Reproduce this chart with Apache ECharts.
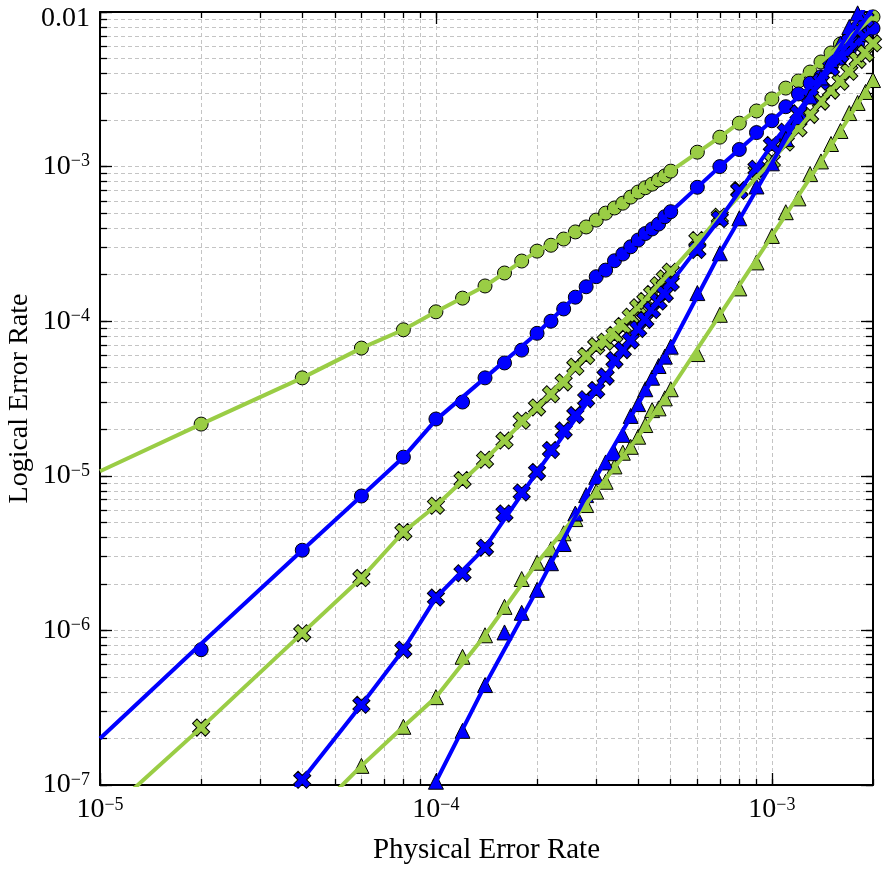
<!DOCTYPE html>
<html>
<head>
<meta charset="utf-8">
<script src="https://cdn.jsdelivr.net/npm/echarts@6/dist/echarts.min.js"></script>
<style>
  html, body { margin: 0; padding: 0; background: #fff; }
  #chart { width: 886px; height: 886px; }
</style>
</head>
<body>
<div id="chart"></div>
<script>
// ========================================
// Data
// ========================================

// physical error rates where markers sit
const markerX = [2e-5, 4e-5, 6e-5, 8e-5,
  1e-4, 1.2e-4, 1.4e-4, 1.6e-4, 1.8e-4, 2e-4, 2.2e-4, 2.4e-4, 2.6e-4, 2.8e-4, 3e-4,
  3.2e-4, 3.4e-4, 3.6e-4, 3.8e-4, 4e-4, 4.2e-4, 4.4e-4, 4.6e-4, 4.8e-4, 5e-4,
  6e-4, 7e-4, 8e-4, 9e-4,
  1e-3, 1.1e-3, 1.2e-3, 1.3e-3, 1.4e-3, 1.5e-3, 1.6e-3, 1.7e-3, 1.8e-3, 1.9e-3, 2e-3];

const greenCircleY = [2.16e-5, 4.3e-5, 6.7e-5, 8.8e-5,
  1.15e-4, 1.41e-4, 1.69e-4, 2.05e-4, 2.45e-4, 2.84e-4, 3.1e-4, 3.4e-4, 3.78e-4, 4.07e-4, 4.51e-4,
  5.0e-4, 5.4e-4, 5.8e-4, 6.35e-4, 6.85e-4, 7.3e-4, 7.7e-4, 8.2e-4, 8.7e-4, 9.35e-4,
  1.24e-3, 1.55e-3, 1.91e-3, 2.29e-3,
  2.74e-3, 3.22e-3, 3.58e-3, 4.09e-3, 4.75e-3, 5.43e-3, 6.2e-3, 6.9e-3, 7.7e-3, 8.5e-3, 9.3e-3];

const blueCircleY = [7.5e-7, 3.3e-6, 7.4e-6, 1.32e-5,
  2.33e-5, 3.0e-5, 4.3e-5, 5.37e-5, 6.5e-5, 8.35e-5, 1.0e-4, 1.2e-4, 1.43e-4, 1.67e-4, 1.94e-4,
  2.14e-4, 2.46e-4, 2.72e-4, 3.03e-4, 3.35e-4, 3.69e-4, 3.95e-4, 4.25e-4, 4.74e-4, 5.11e-4,
  7.35e-4, 1.0e-3, 1.29e-3, 1.66e-3,
  1.98e-3, 2.44e-3, 2.95e-3, 3.46e-3, 3.81e-3, 4.43e-3, 5.02e-3, 5.68e-3, 6.27e-3, 7.1e-3, 7.86e-3];

const greenCrossY = [2.35e-7, 9.6e-7, 2.18e-6, 4.33e-6,
  6.4e-6, 9.4e-6, 1.27e-5, 1.69e-5, 2.27e-5, 2.77e-5, 3.37e-5, 4.02e-5, 5.07e-5, 5.96e-5, 6.9e-5,
  7.37e-5, 8.15e-5, 9.3e-5, 1.07e-4, 1.23e-4, 1.35e-4, 1.5e-4, 1.71e-4, 1.89e-4, 2.09e-4,
  3.35e-4, 4.74e-4, 7.06e-4, 9.2e-4,
  1.09e-3, 1.43e-3, 1.77e-3, 2.16e-3, 2.63e-3, 3.1e-3, 3.54e-3, 4.1e-3, 4.9e-3, 5.4e-3, 6.27e-3];

const blueCrossY = [null, 1.08e-7, 3.3e-7, 7.5e-7,
  1.63e-6, 2.34e-6, 3.43e-6, 5.7e-6, 7.8e-6, 1.06e-5, 1.47e-5, 1.96e-5, 2.47e-5, 3.13e-5, 3.59e-5,
  4.38e-5, 5.6e-5, 6.5e-5, 7.5e-5, 8.9e-5, 1.02e-4, 1.18e-4, 1.34e-4, 1.5e-4, 1.77e-4,
  2.89e-4, 4.58e-4, 6.97e-4, 9.7e-4,
  1.38e-3, 1.68e-3, 2.21e-3, 2.83e-3, 3.54e-3, 4.36e-3, 5.3e-3, 6.4e-3, 7.6e-3, 9.0e-3, null];

const greenTriY = [null, null, 1.33e-7, 2.38e-7,
  3.7e-7, 6.75e-7, 9.3e-7, 1.42e-6, 2.15e-6, 2.74e-6, 3.35e-6, 4.25e-6, 5.25e-6, 6.47e-6, 7.9e-6,
  9.15e-6, 1.15e-5, 1.41e-5, 1.54e-5, 1.79e-5, 2.13e-5, 2.66e-5, 2.73e-5, 3.17e-5, 3.63e-5,
  6.13e-5, 1.1e-4, 1.63e-4, 2.4e-4,
  3.56e-4, 5.07e-4, 6.23e-4, 8.94e-4, 1.08e-3, 1.4e-3, 1.7e-3, 2.22e-3, 2.58e-3, 3.04e-3, 3.63e-3];

const blueTriY = [null, null, null, null,
  1.05e-7, 2.24e-7, 4.43e-7, 9.7e-7, 1.3e-6, 1.83e-6, 2.72e-6, 3.62e-6, 5.7e-6, 7.5e-6, 9.85e-6,
  1.22e-5, 1.4e-5, 1.84e-5, 2.44e-5, 2.91e-5, 3.63e-5, 4.31e-5, 5.13e-5, 5.9e-5, 6.84e-5,
  1.52e-4, 2.75e-4, 4.63e-4, 7.44e-4,
  1.05e-3, 1.51e-3, 2.09e-3, 2.84e-3, 3.77e-3, 4.9e-3, 6.26e-3, 8.0e-3, 9.8e-3, null, null];

// fitted curves (drawn as lines, running out to the frame)
const fitX = [1e-5, 2e-5, 4e-5, 6e-5, 8e-5, 1e-4, 1.4e-4, 2e-4, 3e-4, 4e-4, 5e-4, 7e-4, 1e-3, 1.4e-3, 2e-3];
const greenCircleFit = [1.07e-5, 2.16e-5, 4.3e-5, 6.7e-5, 8.8e-5, 1.15e-4, 1.69e-4, 2.84e-4, 4.51e-4, 6.85e-4, 9.35e-4, 1.55e-3, 2.74e-3, 4.75e-3, 9.3e-3];
const blueCircleFit = [2.0e-7, 8.2e-7, 3.3e-6, 7.4e-6, 1.32e-5, 2.3e-5, 4.3e-5, 8.35e-5, 1.94e-4, 3.35e-4, 5.11e-4, 1.0e-3, 1.98e-3, 3.81e-3, 7.86e-3];
const greenCrossFit = [6e-8, 2.35e-7, 9.6e-7, 2.18e-6, 4.33e-6, 6.4e-6, 1.27e-5, 2.77e-5, 6.9e-5, 1.23e-4, 2.09e-4, 4.74e-4, 1.09e-3, 2.63e-3, 6.27e-3];
const blueCrossFit = [null, 1.6e-8, 1.08e-7, 3.3e-7, 7.5e-7, 1.63e-6, 3.43e-6, 1.06e-5, 3.59e-5, 8.9e-5, 1.77e-4, 4.58e-4, 1.38e-3, 3.54e-3, 1.06e-2];
const greenTriFit = [null, null, 5.5e-8, 1.33e-7, 2.38e-7, 3.7e-7, 9.3e-7, 2.74e-6, 7.9e-6, 1.79e-5, 3.63e-5, 1.1e-4, 3.56e-4, 1.08e-3, 3.63e-3];
const blueTriFit = [null, null, null, null, 4.1e-8, 1.05e-7, 4.43e-7, 1.83e-6, 9.85e-6, 2.91e-5, 6.84e-5, 2.75e-4, 1.05e-3, 3.77e-3, 1.3e-2];

// axes
const xMin = 1e-5, xMax = 2e-3;
const yMin = 1e-7, yMax = 1e-2;
const xMajor = [1e-5, 1e-4, 1e-3];
const xMajorLabels = ['10|−5', '10|−4', '10|−3'];
const xMinor = [2e-5, 3e-5, 4e-5, 5e-5, 6e-5, 7e-5, 8e-5, 9e-5,
  2e-4, 3e-4, 4e-4, 5e-4, 6e-4, 7e-4, 8e-4, 9e-4, 2e-3];
const yMajor = [1e-7, 1e-6, 1e-5, 1e-4, 1e-3, 1e-2];
const yMajorLabels = ['10|−7', '10|−6', '10|−5', '10|−4', '10|−3', '0.01'];
const yMinor = [2e-7, 3e-7, 4e-7, 5e-7, 6e-7, 7e-7, 8e-7, 9e-7,
  2e-6, 3e-6, 4e-6, 5e-6, 6e-6, 7e-6, 8e-6, 9e-6,
  2e-5, 3e-5, 4e-5, 5e-5, 6e-5, 7e-5, 8e-5, 9e-5,
  2e-4, 3e-4, 4e-4, 5e-4, 6e-4, 7e-4, 8e-4, 9e-4,
  2e-3, 3e-3, 4e-3, 5e-3, 6e-3, 7e-3, 8e-3, 9e-3];

const GREEN = '#9acd45';
const BLUE = '#0000ff';
const FONT = '"Liberation Serif", "Times New Roman", serif';
const CROSS = 'path://M-1.1,-3.2H1.1V-1.1H3.2V1.1H1.1V3.2H-1.1V1.1H-3.2V-1.1H-1.1Z';

// ========================================
// helpers
// ========================================
function pairs(xs, ys) {
  const out = [];
  for (let i = 0; i < xs.length; i++) {
    if (ys[i] != null) out.push([xs[i], ys[i]]);
  }
  return out;
}

function tickLabel(ticks, labels) {
  return function(value) {
    const i = ticks.findIndex(t => Math.abs(Math.log10(t) - Math.log10(value)) < 1e-6);
    if (i < 0) return '';
    const parts = labels[i].split('|');
    if (parts.length === 1) return '{p|' + parts[0] + '}';
    return '{b|' + parts[0] + '}{s|' + parts[1] + '}';
  };
}

const labelRich = {
  b: { fontFamily: FONT, fontSize: 28, color: '#000' },
  s: { fontFamily: FONT, fontSize: 18, color: '#000', verticalAlign: 'top' },
  p: { fontFamily: FONT, fontSize: 28, color: '#000', padding: [13, 0, 0, 0] }
};

const gridLine = { show: true, lineStyle: { color: '#c4c4c4', width: 1, type: [4, 3] } };

function xAxisDef(position, major, withLabel) {
  return {
    type: 'log', logBase: 10, min: xMin, max: xMax, position: position,
    axisLine: { show: major, onZero: false, lineStyle: { color: '#000', width: 2 } },
    axisTick: {
      show: true, inside: true, length: major ? 12 : 6,
      customValues: major ? xMajor : xMajor.concat(xMinor),
      lineStyle: { color: '#000', width: 1.3 }
    },
    axisLabel: withLabel ? {
      show: true, margin: 11, customValues: xMajor,
      formatter: tickLabel(xMajor, xMajorLabels), rich: labelRich
    } : { show: false },
    splitLine: (!major && position === 'bottom') ? gridLine : { show: false },
    name: withLabel ? 'Physical Error Rate' : '',
    nameLocation: 'middle', nameGap: 51, nameMoveOverlap: false,
    nameTextStyle: { fontFamily: FONT, fontSize: 29, color: '#000' }
  };
}

function yAxisDef(position, major, withLabel) {
  return {
    type: 'log', logBase: 10, min: yMin, max: yMax, position: position,
    axisLine: { show: major, onZero: false, lineStyle: { color: '#000', width: 2 } },
    axisTick: {
      show: true, inside: true, length: major ? 12 : 7,
      customValues: major ? yMajor : yMajor.concat(yMinor),
      lineStyle: { color: '#000', width: 1.3 }
    },
    axisLabel: withLabel ? {
      show: true, margin: 10, customValues: yMajor,
      formatter: tickLabel(yMajor, yMajorLabels), rich: labelRich
    } : { show: false },
    splitLine: (!major && position === 'left') ? gridLine : { show: false },
    name: withLabel ? 'Logical Error Rate' : '',
    nameLocation: 'middle', nameGap: 66, nameMoveOverlap: false,
    nameTextStyle: { fontFamily: FONT, fontSize: 28, color: '#000' }
  };
}

function fitSeries(ys, color) {
  return {
    type: 'line', data: pairs(fitX, ys), showSymbol: false, symbol: 'none',
    clip: true, silent: true, animation: false,
    lineStyle: { color: color, width: 4 }
  };
}

function markSeries(ys, color, symbol, size, rotate) {
  return {
    type: 'scatter', data: pairs(markerX, ys), symbol: symbol,
    symbolSize: size, symbolRotate: rotate || 0, clip: true, animation: false,
    itemStyle: { color: color, borderColor: '#000', borderWidth: 1, opacity: 1 }
  };
}

// ========================================
// chart
// ========================================
const myChart = echarts.init(document.getElementById('chart'), null, { renderer: 'canvas' });

const option = {
  backgroundColor: '#fff',
  animation: false,
  grid: { left: 100, right: 13, top: 12, bottom: 101, containLabel: false, outerBoundsMode: 'none' },
  xAxis: [
    xAxisDef('bottom', true, true),
    xAxisDef('bottom', false, false),
    xAxisDef('top', true, false),
    xAxisDef('top', false, false)
  ],
  yAxis: [
    yAxisDef('left', true, true),
    yAxisDef('left', false, false),
    yAxisDef('right', true, false),
    yAxisDef('right', false, false)
  ],
  series: [
    fitSeries(greenCircleFit, GREEN),
    markSeries(greenCircleY, GREEN, 'circle', 14),
    fitSeries(blueCircleFit, BLUE),
    markSeries(blueCircleY, BLUE, 'circle', 14),
    fitSeries(greenCrossFit, GREEN),
    markSeries(greenCrossY, GREEN, CROSS, 18, 45),
    fitSeries(blueCrossFit, BLUE),
    markSeries(blueCrossY, BLUE, CROSS, 18, 45),
    fitSeries(greenTriFit, GREEN),
    markSeries(greenTriY, GREEN, 'triangle', 15),
    fitSeries(blueTriFit, BLUE),
    markSeries(blueTriY, BLUE, 'triangle', 15)
  ]
};

myChart.setOption(option);
</script>
</body>
</html>
